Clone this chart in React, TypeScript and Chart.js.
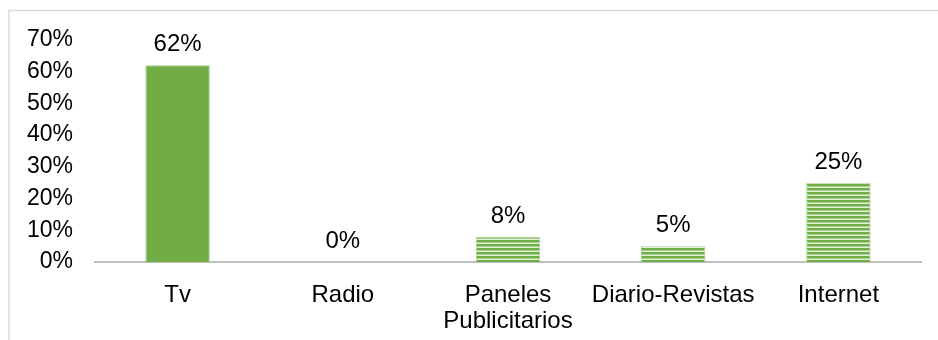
import React, { useEffect, useRef } from "react";
import { Chart, registerables } from "chart.js";

Chart.register(...registerables);

// Medios de comunicación: porcentaje de respuestas
const categories: (string | string[])[] = [
  "Tv",
  "Radio",
  ["Paneles", "Publicitarios"],
  "Diario-Revistas",
  "Internet",
];
const values = [62, 0, 8, 5, 25];
const yMin = 0;
const yMax = 70;
const yStep = 10;

const FONT = "'Liberation Sans', Arial, sans-serif";

function makeStripes(): CanvasPattern | string {
  const c = document.createElement("canvas");
  c.width = 4;
  c.height = 4;
  const g = c.getContext("2d");
  if (!g) return "#70AD47";
  g.fillStyle = "#70AD47";
  g.fillRect(0, 0, 4, 2);
  g.fillStyle = "#A9D18E";
  g.fillRect(0, 2, 4, 1);
  g.fillStyle = "#E2F0D9";
  g.fillRect(0, 3, 4, 1);
  return g.createPattern(c, "repeat") || "#70AD47";
}

const framePlugin = {
  id: "frame",
  beforeDraw(chart: Chart) {
    const ctx = chart.ctx;
    ctx.save();
    ctx.strokeStyle = "#D9D9D9";
    ctx.lineWidth = 1.5;
    ctx.beginPath();
    ctx.moveTo(9, chart.height);
    ctx.lineTo(9, 10.5);
    ctx.lineTo(chart.width, 10.5);
    ctx.stroke();
    ctx.restore();
  },
};

const valueLabels = {
  id: "valueLabels",
  afterDatasetsDraw(chart: Chart) {
    const ctx = chart.ctx;
    const meta = chart.getDatasetMeta(0);
    ctx.save();
    ctx.font = `24px ${FONT}`;
    ctx.fillStyle = "#000000";
    ctx.textAlign = "center";
    ctx.textBaseline = "alphabetic";
    meta.data.forEach((el: any, i: number) => {
      ctx.fillText(`${values[i]}%`, el.x, el.y - 14);
    });
    ctx.restore();
  },
};

export default function App() {
  const ref = useRef<HTMLCanvasElement | null>(null);

  useEffect(() => {
    if (!ref.current) return;
    const stripes = makeStripes();
    const colors = values.map((_, i) => (i === 0 ? "#70AD47" : stripes));
    const chart = new Chart(ref.current, {
      type: "bar",
      data: {
        labels: categories,
        datasets: [
          {
            data: values,
            backgroundColor: colors as any,
            borderColor: "#A9D18E",
            borderWidth: 1,
            categoryPercentage: 1,
            barPercentage: 0.39,
          },
        ],
      },
      options: {
        responsive: false,
        animation: false,
        layout: { padding: { top: 40, right: 17, bottom: 0, left: 0 } },
        plugins: {
          legend: { display: false },
          tooltip: { enabled: false },
        },
        scales: {
          x: {
            grid: { display: false, drawTicks: false },
            border: { display: true, color: "#BFBFBF", width: 2 },
            ticks: {
              color: "#000000",
              padding: 20,
              maxRotation: 0,
              autoSkip: false,
              font: { family: FONT, size: 24, lineHeight: 1.1 },
            },
            afterFit(scale: any) {
              scale.height = 78;
            },
          },
          y: {
            min: yMin,
            max: yMax,
            grid: { display: false, drawTicks: false },
            border: { display: false },
            ticks: {
              stepSize: yStep,
              color: "#000000",
              padding: 22,
              font: { family: FONT, size: 23 },
              callback: (v: any) => `${v}%`,
            },
            afterFit(scale: any) {
              scale.width = 95;
            },
          },
        },
      },
      plugins: [framePlugin, valueLabels],
    });
    return () => chart.destroy();
  }, []);

  return (
    <canvas
      ref={ref}
      width={938}
      height={340}
      style={{ position: "absolute", left: 0, top: 0, width: 938, height: 340 }}
    />
  );
}
